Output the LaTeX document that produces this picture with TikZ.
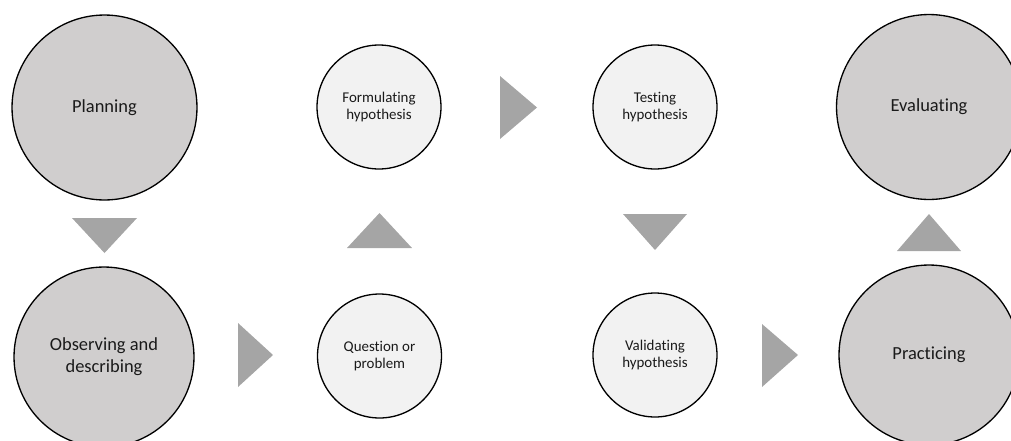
\documentclass[tikz,border=0pt]{standalone}
\usepackage{fontspec}
\setmainfont[RawFeature=-liga]{Carlito}
\definecolor{bigfill}{HTML}{D0CECE}
\definecolor{smallfill}{HTML}{F2F2F2}
\definecolor{trifill}{HTML}{A5A5A5}
\definecolor{textgray}{HTML}{1A1A1A}

\begin{document}
\begin{tikzpicture}[x=0.02cm,y=-0.02cm,
  big/.style={draw,circle,line width=0.75pt,fill=bigfill,inner sep=0pt,align=center,text=textgray,font=\fontsize{10.5}{12.5}\selectfont},
  small/.style={draw,circle,line width=0.75pt,fill=smallfill,inner sep=0pt,minimum size=2.48cm,align=center,text=textgray,font=\fontsize{8.5}{10}\selectfont},
  tri/.style={fill=trifill}]
\useasboundingbox (0,0) rectangle (1011,440);

% circles
\node[big,minimum size=3.7cm] (plan) at (104.5,107.5) {Planning};
\node[big,minimum size=3.6cm] (obs) at (104,357) {Observing and\\describing};
\node[small] (quest) at (379.5,356) {Question or\\problem};
\node[small] (form) at (379,107) {Formulating\\hypothesis};
\node[small] (test) at (655,107) {Testing\\hypothesis};
\node[small] (valid) at (655,355) {Validating\\hypothesis};
\node[big,minimum size=3.6cm] (prac) at (929,355) {Practicing};
\node[big,minimum size=3.7cm] (eval) at (929,107) {Evaluating};

% triangles
\fill[tri] (72,218) -- (137,218) -- (104.5,253) -- cycle;
\fill[tri] (238,323) -- (273,355) -- (238,387) -- cycle;
\fill[tri] (347,248) -- (412,248) -- (379.5,213) -- cycle;
\fill[tri] (500,76) -- (537,107.5) -- (500,139) -- cycle;
\fill[tri] (623,214) -- (687,214) -- (655,250) -- cycle;
\fill[tri] (762,324) -- (798,355) -- (762,387) -- cycle;
\fill[tri] (897,251) -- (961,251) -- (929,214) -- cycle;

\end{tikzpicture}
\end{document}
